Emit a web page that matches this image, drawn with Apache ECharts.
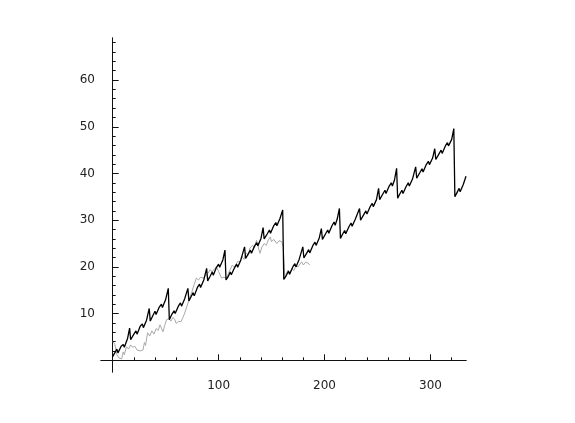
<!DOCTYPE html>
<html lang="en">
  <head>
    <meta charset="UTF-8" />
    <title>Sawtooth line plot</title>
    <script src="https://cdn.jsdelivr.net/npm/echarts@6/dist/echarts.min.js"></script>
    <style>
      html, body { margin: 0; padding: 0; background: #fff; }
      #main { width: 575px; height: 423px; }
    </style>
  </head>
  <body>
    <div id="main"></div>

    <script>
      // black series: [x, y] vertices
      const blackLine = [
        [0, 0.8], [4, 2.4], [5, 1.6], [8, 3.0], [10, 3.4], [11, 2.8], [14, 4.6], [16, 6.9], [17, 4.4],
        [20, 5.6], [22, 6.3], [23, 5.6], [26, 7.3], [28, 7.8], [29, 7.0], [32, 8.6], [34.5, 11.1], [35.5, 8.4],
        [38, 9.6], [40, 10.5], [41, 9.8], [44, 11.4], [46, 12.0], [47, 11.3], [50, 13.0], [52.5, 15.4], [53.5, 8.7],
        [56, 9.9], [58, 10.6], [59, 10.0], [62, 11.6], [64, 12.3], [65, 11.6], [68, 13.2], [71, 15.4], [72, 12.7],
        [74, 13.6], [76, 14.5], [77, 13.8], [80, 15.6], [82, 16.3], [83, 15.6], [86, 17.2], [88.7, 19.7], [89.7, 17.0],
        [92, 18.0], [94, 18.9], [95, 18.2], [98, 19.9], [100, 20.6], [101, 19.9], [104, 21.5], [106, 23.6], [107, 17.2],
        [109, 17.9], [111, 18.9], [112, 18.3], [115, 19.8], [117, 20.6], [118, 19.9], [121, 21.5], [124.5, 24.3], [125.5, 21.8],
        [128, 22.8], [130, 23.6], [131, 22.9], [134, 24.5], [136, 25.2], [137, 24.5], [140, 26.1], [142, 28.4], [143, 26.0],
        [146, 27.1], [148, 27.9], [149, 27.2], [152, 28.8], [154, 29.5], [155, 28.8], [158, 30.4], [160.5, 32.2], [161.5, 17.3],
        [164, 18.2], [166, 19.1], [167, 18.4], [170, 20.0], [172, 20.7], [173, 20.0], [176, 21.6], [179.5, 24.3], [180.5, 21.9],
        [183, 22.9], [185, 23.7], [186, 23.0], [189, 24.6], [191, 25.3], [192, 24.6], [195, 26.2], [197, 28.2], [198, 25.9],
        [201, 27.1], [203, 27.9], [204, 27.2], [207, 28.8], [209, 29.6], [210, 28.9], [212, 30.3], [214, 32.5], [215, 26.1],
        [217, 27.0], [219, 27.8], [220, 27.1], [223, 28.6], [225, 29.4], [226, 28.7], [229, 30.2], [233, 32.5], [234, 30.0],
        [237, 31.2], [239, 32.0], [240, 31.3], [243, 32.9], [245, 33.6], [246, 32.9], [249, 34.4], [251, 36.8], [252, 34.4],
        [255, 35.6], [257, 36.4], [258, 35.7], [261, 37.3], [263, 38.0], [264, 37.3], [266, 38.6], [268, 41.1], [269, 34.7],
        [271, 35.6], [273, 36.4], [274, 35.7], [277, 37.2], [279, 38.0], [280, 37.3], [283, 38.8], [286, 41.4], [287, 39.0],
        [290, 40.2], [292, 41.0], [293, 40.3], [296, 41.9], [298, 42.6], [299, 41.9], [302, 43.3], [304, 45.3], [305, 43.0],
        [308, 44.2], [310, 45.0], [311, 44.3], [314, 45.9], [316, 46.6], [317, 45.9], [320, 47.3], [322, 49.6], [323, 35.0],
        [325, 35.9], [327, 36.8], [328, 36.1], [331, 37.7], [333.5, 39.4]
      ];

      // grey series: [x, y] vertices
      const greyLine = [
        [0, 4.0], [2, 3.5], [4, 1.2], [6, 0.5], [8.5, 0.3], [10, 1.8], [11, 1.2], [13, 2.9], [15, 2.4], [17, 3.3],
        [19, 2.8], [21, 3.0], [23, 2.2], [26, 2.0], [28.6, 2.2], [30, 3.8], [31, 3.2], [33, 5.9], [35, 5.2], [37, 6.3],
        [39, 5.6], [41, 6.8], [43, 6.4], [44.6, 7.6], [46, 6.9], [47.5, 6.1], [49, 7.4], [50.9, 8.7], [53, 8.9], [55, 8.4],
        [57, 9.2], [58.7, 8.7], [60, 7.9], [62, 8.3], [64.6, 8.3], [66, 9.0], [68, 10.1], [70, 11.5], [71, 11.1], [73, 13.6],
        [75, 14.8], [77, 16.3], [79, 17.6], [81, 17.2], [83, 17.8], [85.6, 17.6], [88, 18.2], [90, 18.6], [92, 19.4], [94, 18.9],
        [96, 19.6], [98, 20.0], [100, 19.0], [102.8, 17.6], [105, 17.8], [107.5, 17.6], [110.6, 19.3], [113, 20.4], [115, 19.9],
        [118, 21.2], [120, 21.0], [122, 22.3], [124, 21.6], [126, 23.0], [128, 22.5], [129.5, 24.0], [132, 24.6], [134, 24.2],
        [135.8, 25.7], [137, 24.6], [139, 22.9], [141, 24.3], [143, 25.0], [145, 24.6], [146.8, 25.7], [148.7, 26.4], [150, 25.4],
        [152, 25.9], [154.9, 25.0], [157, 25.6], [159.6, 25.4], [161, 24.3], [162.5, 17.6], [164, 18.7], [165.7, 19.3], [167, 18.4],
        [169, 19.6], [171, 19.2], [173, 20.3], [175, 20.0], [178.3, 21.1], [180, 20.4], [182, 21.0], [184.6, 20.8], [186, 20.4]
      ];

      const xMajorTicks = [100, 200, 300];
      const xMinorTicks = [20, 40, 60, 80, 120, 140, 160, 180, 220, 240, 260, 280, 320];
      const yMajorTicks = [10, 20, 30, 40, 50, 60];
      const yMinorTicks = [2, 4, 6, 8, 12, 14, 16, 18, 22, 24, 26, 28, 32, 34, 36, 38,
        42, 44, 46, 48, 52, 54, 56, 58, 62, 64, 66, 68];

      const axisColor = '#111';
      const labelFont = { color: '#222', fontFamily: 'DejaVu Sans', fontSize: 12 };

      function xAxisOf(ticks, len, withLabels) {
        return {
          type: 'value',
          position: 'bottom',
          min: -11,
          max: 333.5,
          axisLine: { onZero: true, onZeroAxisIndex: 0, lineStyle: { color: axisColor, width: 1 } },
          axisTick: { show: true, inside: true, length: len, customValues: ticks, lineStyle: { color: axisColor } },
          axisLabel: withLabels
            ? Object.assign({ show: true, margin: 8, customValues: ticks }, labelFont)
            : { show: false },
          splitLine: { show: false }
        };
      }

      function yAxisOf(ticks, len, withLabels) {
        return {
          type: 'value',
          position: 'left',
          min: -2.5,
          max: 69,
          axisLine: { onZero: true, onZeroAxisIndex: 0, lineStyle: { color: axisColor, width: 1 } },
          axisTick: { show: true, inside: true, length: len, customValues: ticks, lineStyle: { color: axisColor } },
          axisLabel: withLabels
            ? Object.assign({ show: true, margin: 6, customValues: ticks }, labelFont)
            : { show: false },
          splitLine: { show: false }
        };
      }

      const options = {
        animation: false,
        backgroundColor: '#fff',
        grid: { left: 101, right: 109, top: 38, bottom: 51, containLabel: false },
        xAxis: [xAxisOf(xMajorTicks, 6, true), xAxisOf(xMinorTicks, 3, false)],
        yAxis: [yAxisOf(yMajorTicks, 6, true), yAxisOf(yMinorTicks, 3, false)],
        series: [
          {
            name: 'grey',
            type: 'line',
            data: greyLine,
            showSymbol: false,
            lineStyle: { color: '#a9a9a9', width: 1 }
          },
          {
            name: 'black',
            type: 'line',
            data: blackLine,
            showSymbol: false,
            lineStyle: { color: '#000', width: 1.3 }
          }
        ]
      };

      var myChart = echarts.init(document.querySelector('#main'));
      myChart.setOption(options);
    </script>
  </body>
</html>
